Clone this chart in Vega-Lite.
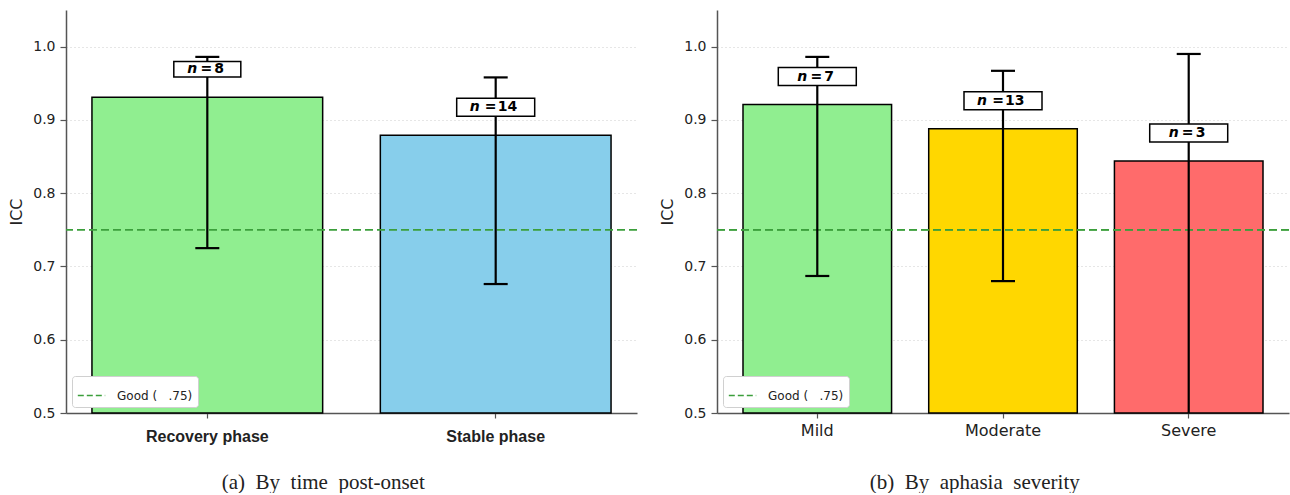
{
  "$schema": "https://vega.github.io/schema/vega-lite/v6.json",
  "background": "white",
  "padding": {"left": 8, "top": 10, "right": 0, "bottom": 0},
  "spacing": 21,
  "config": {
    "view": {"stroke": null},
    "axis": {"domainColor": "#555", "domainWidth": 1.5, "tickColor": "#555", "tickWidth": 1.2, "labelColor": "#222", "titleColor": "#222", "labelFont": "DejaVu Sans", "titleFont": "DejaVu Sans", "titleFontWeight": "normal"},
    "legend": {"orient": "bottom-left", "offset": 6, "fillColor": "white", "strokeColor": "#d0d0d0", "padding": 5, "cornerRadius": 3, "labelFont": "DejaVu Sans", "labelFontSize": 12, "labelColor": "#222", "symbolType": "stroke", "symbolDash": [6, 3], "symbolStrokeWidth": 1.5, "symbolSize": 750, "labelOffset": 11}
  },
  "resolve": {"scale": {"fill": "independent", "stroke": "independent"}, "legend": {"stroke": "independent", "fill": "independent"}},
  "hconcat": [
    {
      "width": 571,
      "height": 403,
      "title": {"text": "(a)\u00a0 By\u00a0 time\u00a0 post-onset", "orient": "bottom", "frame": "bounds", "anchor": "middle", "font": "Liberation Serif", "fontSize": 21, "fontWeight": "normal", "color": "#222", "offset": 28},
      "data": {"values": [
        {"group": "Recovery phase", "icc": 0.931, "lo": 0.725, "hi": 0.986, "n": 8},
        {"group": "Stable phase", "icc": 0.879, "lo": 0.676, "hi": 0.958, "n": 14}
      ]},
      "layer": [
        {
          "mark": {"type": "bar", "stroke": "black", "strokeWidth": 1.5},
          "encoding": {
            "x": {"field": "group", "type": "nominal", "sort": null, "scale": {"paddingInner": 0.2, "paddingOuter": 0.09}, "axis": {"title": null, "labelAngle": 0, "labelFont": "Liberation Sans", "labelFontWeight": "bold", "labelFontSize": 16, "tickSize": 5, "labelPadding": 10}},
            "y": {"field": "icc", "type": "quantitative", "scale": {"domain": [0.5, 1.05], "nice": false, "zero": false}, "axis": {"title": "ICC", "titleFontSize": 16, "titlePadding": 8, "values": [0.5, 0.6, 0.7, 0.8, 0.9, 1.0], "format": ".1f", "labelFontSize": 14, "tickSize": 6, "labelPadding": 5, "grid": true, "gridDash": [1, 3], "gridColor": "#cccccc"}},
            "y2": {"datum": 0.5},
            "fill": {"field": "group", "type": "nominal", "scale": {"domain": ["Recovery phase", "Stable phase"], "range": ["#90EE90", "#87CEEB"]}, "legend": null}
          }
        },
        {
          "mark": {"type": "rule", "strokeDash": [8, 4], "strokeWidth": 1.5},
          "encoding": {
            "y": {"datum": 0.75},
            "stroke": {"datum": "Good (\u00a0\u00a0\u00a0.75)", "type": "nominal", "scale": {"range": ["#3c9f3c"]}, "legend": {"title": null}}
          }
        },
        {
          "mark": {"type": "rule", "color": "black", "strokeWidth": 2.2, "clip": true},
          "encoding": {
            "x": {"field": "group", "type": "nominal", "sort": null},
            "y": {"field": "lo", "type": "quantitative"},
            "y2": {"field": "hi"}
          }
        },
        {
          "mark": {"type": "tick", "color": "black", "thickness": 2.2, "size": 24, "opacity": 1, "clip": true},
          "encoding": {"x": {"field": "group", "type": "nominal", "sort": null}, "y": {"field": "hi", "type": "quantitative"}}
        },
        {
          "mark": {"type": "tick", "color": "black", "thickness": 2.2, "size": 24, "opacity": 1, "clip": true},
          "encoding": {"x": {"field": "group", "type": "nominal", "sort": null}, "y": {"field": "lo", "type": "quantitative"}}
        },
        {
          "mark": {"type": "point", "shape": "M-1,-0.23L1,-0.23L1,0.23L-1,0.23Z", "filled": true, "fill": "white", "stroke": "black", "strokeWidth": 1.5, "opacity": 1, "yOffset": -28},
          "encoding": {
            "x": {"field": "group", "type": "nominal", "sort": null},
            "y": {"field": "icc", "type": "quantitative"},
            "size": {"condition": {"test": "datum.n < 10", "value": 4489}, "value": 6084}
          }
        },
        {
          "transform": [{"filter": "datum.n < 10"}],
          "layer": [
            {"mark": {"type": "text", "text": "n", "font": "DejaVu Sans", "fontStyle": "italic", "fontWeight": "bold", "fontSize": 14, "align": "right", "baseline": "middle", "dx": -10, "yOffset": -28, "color": "black"}},
            {"mark": {"type": "text", "text": "=", "font": "DejaVu Sans", "fontWeight": "bold", "fontSize": 14, "align": "center", "baseline": "middle", "dx": -1, "yOffset": -28, "color": "black"}},
            {"mark": {"type": "text", "font": "DejaVu Sans", "fontWeight": "bold", "fontSize": 14, "align": "left", "baseline": "middle", "dx": 7, "yOffset": -28, "color": "black"}, "encoding": {"text": {"field": "n", "type": "quantitative"}}}
          ],
          "encoding": {"x": {"field": "group", "type": "nominal", "sort": null}, "y": {"field": "icc", "type": "quantitative"}}
        },
        {
          "transform": [{"filter": "datum.n >= 10"}],
          "layer": [
            {"mark": {"type": "text", "text": "n", "font": "DejaVu Sans", "fontStyle": "italic", "fontWeight": "bold", "fontSize": 14, "align": "right", "baseline": "middle", "dx": -16, "yOffset": -28, "color": "black"}},
            {"mark": {"type": "text", "text": "=", "font": "DejaVu Sans", "fontWeight": "bold", "fontSize": 14, "align": "center", "baseline": "middle", "dx": -5, "yOffset": -28, "color": "black"}},
            {"mark": {"type": "text", "font": "DejaVu Sans", "fontWeight": "bold", "fontSize": 14, "align": "left", "baseline": "middle", "dx": 2, "yOffset": -28, "color": "black"}, "encoding": {"text": {"field": "n", "type": "quantitative"}}}
          ],
          "encoding": {"x": {"field": "group", "type": "nominal", "sort": null}, "y": {"field": "icc", "type": "quantitative"}}
        }
      ]
    },
    {
      "width": 572,
      "height": 403,
      "title": {"text": "(b)\u00a0 By\u00a0 aphasia\u00a0 severity", "orient": "bottom", "frame": "bounds", "anchor": "middle", "font": "Liberation Serif", "fontSize": 21, "fontWeight": "normal", "color": "#222", "offset": 34},
      "data": {"values": [
        {"group": "Mild", "icc": 0.921, "lo": 0.687, "hi": 0.986, "n": 7},
        {"group": "Moderate", "icc": 0.888, "lo": 0.680, "hi": 0.967, "n": 13},
        {"group": "Severe", "icc": 0.844, "lo": 0.45, "hi": 0.990, "n": 3}
      ]},
      "layer": [
        {
          "mark": {"type": "bar", "stroke": "black", "strokeWidth": 1.5},
          "encoding": {
            "x": {"field": "group", "type": "nominal", "sort": null, "scale": {"paddingInner": 0.2, "paddingOuter": 0.14}, "axis": {"title": null, "labelAngle": 0, "labelFont": "DejaVu Sans", "labelFontSize": 16, "tickSize": 5, "labelPadding": 4}},
            "y": {"field": "icc", "type": "quantitative", "scale": {"domain": [0.5, 1.05], "nice": false, "zero": false}, "axis": {"title": "ICC", "titleFontSize": 16, "titlePadding": 8, "values": [0.5, 0.6, 0.7, 0.8, 0.9, 1.0], "format": ".1f", "labelFontSize": 14, "tickSize": 6, "labelPadding": 5, "grid": true, "gridDash": [1, 3], "gridColor": "#cccccc"}},
            "y2": {"datum": 0.5},
            "fill": {"field": "group", "type": "nominal", "scale": {"domain": ["Mild", "Moderate", "Severe"], "range": ["#90EE90", "#FFD700", "#FF6B6B"]}, "legend": null}
          }
        },
        {
          "mark": {"type": "rule", "strokeDash": [8, 4], "strokeWidth": 1.5},
          "encoding": {
            "y": {"datum": 0.75},
            "stroke": {"datum": "Good (\u00a0\u00a0\u00a0.75)", "type": "nominal", "scale": {"range": ["#3c9f3c"]}, "legend": {"title": null}}
          }
        },
        {
          "mark": {"type": "rule", "color": "black", "strokeWidth": 2.2, "clip": true},
          "encoding": {
            "x": {"field": "group", "type": "nominal", "sort": null},
            "y": {"field": "lo", "type": "quantitative"},
            "y2": {"field": "hi"}
          }
        },
        {
          "mark": {"type": "tick", "color": "black", "thickness": 2.2, "size": 24, "opacity": 1, "clip": true},
          "encoding": {"x": {"field": "group", "type": "nominal", "sort": null}, "y": {"field": "hi", "type": "quantitative"}}
        },
        {
          "mark": {"type": "tick", "color": "black", "thickness": 2.2, "size": 24, "opacity": 1, "clip": true},
          "encoding": {"x": {"field": "group", "type": "nominal", "sort": null}, "y": {"field": "lo", "type": "quantitative"}}
        },
        {
          "mark": {"type": "point", "shape": "M-1,-0.23L1,-0.23L1,0.23L-1,0.23Z", "filled": true, "fill": "white", "stroke": "black", "strokeWidth": 1.5, "opacity": 1, "yOffset": -28, "size": 6084},
          "encoding": {
            "x": {"field": "group", "type": "nominal", "sort": null},
            "y": {"field": "icc", "type": "quantitative"}
          }
        },
        {
          "transform": [{"filter": "datum.n < 10"}],
          "layer": [
            {"mark": {"type": "text", "text": "n", "font": "DejaVu Sans", "fontStyle": "italic", "fontWeight": "bold", "fontSize": 14, "align": "right", "baseline": "middle", "dx": -10, "yOffset": -28, "color": "black"}},
            {"mark": {"type": "text", "text": "=", "font": "DejaVu Sans", "fontWeight": "bold", "fontSize": 14, "align": "center", "baseline": "middle", "dx": -1, "yOffset": -28, "color": "black"}},
            {"mark": {"type": "text", "font": "DejaVu Sans", "fontWeight": "bold", "fontSize": 14, "align": "left", "baseline": "middle", "dx": 7, "yOffset": -28, "color": "black"}, "encoding": {"text": {"field": "n", "type": "quantitative"}}}
          ],
          "encoding": {"x": {"field": "group", "type": "nominal", "sort": null}, "y": {"field": "icc", "type": "quantitative"}}
        },
        {
          "transform": [{"filter": "datum.n >= 10"}],
          "layer": [
            {"mark": {"type": "text", "text": "n", "font": "DejaVu Sans", "fontStyle": "italic", "fontWeight": "bold", "fontSize": 14, "align": "right", "baseline": "middle", "dx": -16, "yOffset": -28, "color": "black"}},
            {"mark": {"type": "text", "text": "=", "font": "DejaVu Sans", "fontWeight": "bold", "fontSize": 14, "align": "center", "baseline": "middle", "dx": -5, "yOffset": -28, "color": "black"}},
            {"mark": {"type": "text", "font": "DejaVu Sans", "fontWeight": "bold", "fontSize": 14, "align": "left", "baseline": "middle", "dx": 2, "yOffset": -28, "color": "black"}, "encoding": {"text": {"field": "n", "type": "quantitative"}}}
          ],
          "encoding": {"x": {"field": "group", "type": "nominal", "sort": null}, "y": {"field": "icc", "type": "quantitative"}}
        }
      ]
    }
  ]
}
